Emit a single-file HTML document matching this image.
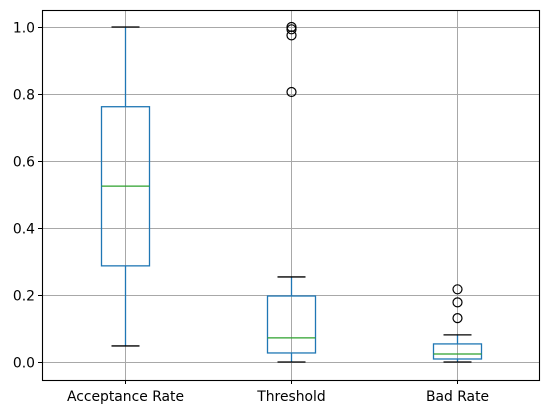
<!DOCTYPE html>
<html><head><meta charset="utf-8"><style>
body{margin:0;background:#fff;font-family:"Liberation Sans","DejaVu Sans",sans-serif}
svg text{font-family:"DejaVu Sans","Liberation Sans",sans-serif;font-size:13.9px;fill:#000}
</style></head><body>
<svg id="chart" width="547" height="413"></svg>
<script>
const categories=["Acceptance Rate","Threshold","Bad Rate"];
const whiskerLow=[0.048,0.0,0.0];
const q1=[0.287,0.027,0.009];
const medians=[0.525,0.072,0.024];
const q3=[0.762,0.197,0.054];
const whiskerHigh=[1.0,0.254,0.081];
const outliers=[[],[0.806,0.975,0.993,1.0],[0.131,0.178,0.217]];
const yTicks=[0.0,0.2,0.4,0.6,0.8,1.0];
const yTickLabels=["0.0","0.2","0.4","0.6","0.8","1.0"];

const L=42,R=540,T=10,B=380,yMin=-0.0537,yMax=1.0507;
const sx=i=>L+(R-L)*(i+0.5)/categories.length;
const sy=v=>B-(v-yMin)/(yMax-yMin)*(B-T);
const svg=document.getElementById('chart');
const NS='http://www.w3.org/2000/svg';
function mk(tag,attrs,parent){const e=document.createElementNS(NS,tag);for(const k in attrs)e.setAttribute(k,attrs[k]);(parent||svg).appendChild(e);return e;}

yTicks.forEach((t,i)=>{
  const y=Math.round(sy(t))+0.5;
  const g=mk('line',{x1:L,x2:R,y1:y,y2:y,stroke:'#a8a8a8','stroke-width':1});
  
  
  const tk=mk('line',{x1:L-4,x2:L,y1:y,y2:y,stroke:'#000','stroke-width':1});
  
  
  const tx=mk('text',{x:L-7,y:y+5,'text-anchor':'end'});
  tx.textContent=yTickLabels[i];
  
  
});
categories.forEach((c,i)=>{
  const x=Math.round(sx(i))+0.5;
  const g=mk('line',{x1:x,x2:x,y1:T,y2:B,stroke:'#a8a8a8','stroke-width':1});
  
  
  const tk=mk('line',{x1:x,x2:x,y1:B,y2:B+4,stroke:'#000','stroke-width':1});
  
  
  const tx=mk('text',{x:x,y:B+21,'text-anchor':'middle'});
  tx.textContent=c;
  
  
});
const bw=24,cw=14,blue='#1f77b4';
categories.forEach((c,i)=>{
  const x=Math.round(sx(i))+0.5;
  const g=mk('g',{});
  
  
  mk('line',{x1:x,x2:x,y1:sy(q3[i]),y2:sy(whiskerHigh[i]),stroke:blue,'stroke-width':1.3},g);
  mk('line',{x1:x,x2:x,y1:sy(q1[i]),y2:sy(whiskerLow[i]),stroke:blue,'stroke-width':1.3},g);
  mk('line',{x1:x-cw,x2:x+cw,y1:sy(whiskerHigh[i]),y2:sy(whiskerHigh[i]),stroke:'#000','stroke-width':1.3},g);
  mk('line',{x1:x-cw,x2:x+cw,y1:sy(whiskerLow[i]),y2:sy(whiskerLow[i]),stroke:'#000','stroke-width':1.3},g);
  mk('rect',{x:x-bw,y:sy(q3[i]),width:2*bw,height:sy(q1[i])-sy(q3[i]),fill:'none',stroke:blue,'stroke-width':1.3},g);
  mk('line',{x1:x-bw,x2:x+bw,y1:sy(medians[i]),y2:sy(medians[i]),stroke:'#2ca02c','stroke-width':1.3},g);
  outliers[i].forEach(v=>{
    const o=mk('circle',{cx:x,cy:sy(v),r:4.5,fill:'none',stroke:'#000','stroke-width':1.2},g);
    
    
  });
});
const f=mk('rect',{x:L+0.5,y:T+0.5,width:R-L-1,height:B-T,fill:'none',stroke:'#000','stroke-width':1.1});


</script>
</body></html>
